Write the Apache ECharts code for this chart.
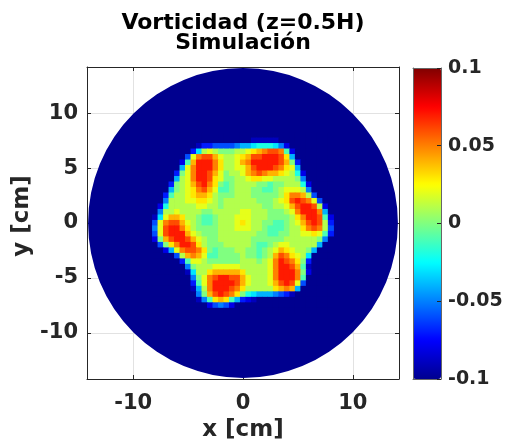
<!DOCTYPE html>
<html><head><meta charset="utf-8">
<script src="https://cdn.jsdelivr.net/npm/echarts@6/dist/echarts.min.js"></script>
<style>html,body{margin:0;padding:0;background:#fff}#c{width:507px;height:441px}</style>
</head><body><div id="c"></div>
<script>
// ---------------- data ----------------
const titleLines = ['Vorticidad (z=0.5H)', 'Simulación'];
const xAxisName = 'x [cm]';
const yAxisName = 'y [cm]';
const axisRange = [-14.2, 14.2];
const xTicks = [-10, 0, 10];
const yTicks = [-10, -5, 0, 5, 10];
const colorbarRange = [-0.1, 0.1];
const colorbarInterval = 0.05;
const domainRadius = 14.1;      // cm, circular tank
const domainValue = -0.1;       // vorticity outside the pattern
// sample grid (cm)
const gridX = [-8,-7.5,-7,-6.5,-6,-5.5,-5,-4.5,-4,-3.5,-3,-2.5,-2,-1.5,-1,-0.5,0,0.5,1,1.5,2,2.5,3,3.5,4,4.5,5,5.5,6,6.5,7,7.5,8];
const gridY = [8,7.5,7,6.5,6,5.5,5,4.5,4,3.5,3,2.5,2,1.5,1,0.5,0,-0.5,-1,-1.5,-2,-2.5,-3,-3.5,-4,-4.5,-5,-5.5,-6,-6.5,-7,-7.5,-8];
// level code -> vorticity value
const levelChars  = '0123456789ABCDEFGHIJK';
const levelValues = [-0.10,-0.09,-0.08,-0.07,-0.06,-0.05,-0.04,-0.03,-0.02,-0.01,0,0.01,0.02,0.03,0.04,0.05,0.06,0.07,0.08,0.09,0.10];
// one string per gridY row, one character per gridX column
const vorticityRows = [
 '000000000000000000000000000000000',
 '000000000000000000111110000000000',
 '000000001334444566788875200000000',
 '000000037BCBAAABBCDEFGGF920000000',
 '0000004CFGGECBBCDEGGHHHGD60000000',
 '0000029EHHHFDBBCEFHHHHHGEA3000000',
 '000006CFHHHFDBBCCEGHHHGFDC6000000',
 '00003ACFHHGECABBCEFGFEEDCB8200000',
 '00006BCFHHGDCAABBCDDCCBBBBA500000',
 '0003ABCEGHFDA9ABBBBAA9AABBB820000',
 '0006ABCDFGEC99ABBBAA99ABCCCB50000',
 '0039BBCDEEDBAAABBBAAAAABDFFEB4000',
 '005BBBCCDDCBABBBBBBAAABCDGHGFC400',
 '028BBBBBCCBBABBBBBBBAABBCEGHHGB20',
 '05BBCBBBBAABBBBBCCBBBAAABCFHHHF60',
 '17CEEDBBA99ABBBCCCBBBAAAABDFHHG92',
 '4CFGGECBA99ABBBCDCBBAA99ABCEGHGB3',
 '5CGHHFDBAAAABBBCCCBBA999ABBDFGFB4',
 '4CGHHHECBAAABBBBBBBAA99AABBCCDC93',
 '2AEGHHGECBAABBBBBBAAAAAABBBBBBA50',
 '04ADFHHGDBAAABBBBBA99ABCCBBBBB600',
 '0026CFGGFDA9AAABBAA9ABCEDCBBA6000',
 '00004BEFEC99AAAABAA9ABEGFDCB70000',
 '0000039CCBAAAAAABBBABCFHGFDA30000',
 '0000005ABBBCCCCCBBBBBCFHHGE910000',
 '00000017BBDEEEEEDBBBBCFHHHFA20000',
 '00000005ACFGHHGGECBBBCFHHHF900000',
 '000000039CFHHHHGECBBBCEGHGC400000',
 '000000016BFHHHGFDBBBBBDEFE6000000',
 '000000005AEGHGFDA8766654310000000',
 '00000000159DED9632100000000000000',
 '000000000024542000000000000000000',
 '000000000000000000000000000000000'
];
// ------------------------------------------------------------------------

const fieldData = [];
vorticityRows.forEach((row, i) => {
  for (let j = 0; j < gridX.length; j++) {
    const ch = row.charAt(j) || '0';
    fieldData.push([gridX[j], gridY[i], levelValues[levelChars.indexOf(ch)]]);
  }
});
const cellSize = gridX[1] - gridX[0];

const jet = ['#00008f','#0000ff','#0080ff','#00ffff','#80ff80','#ffff00','#ff8000','#ff0000','#800000'];
const ink = '#262626';
const font = 'DejaVu Sans';
const tickText = {fontFamily: font, fontWeight: 'bold', fontSize: 21, color: ink};
const cbarText = {fontFamily: font, fontWeight: 'bold', fontSize: 19, color: ink};
const nameText = {fontFamily: font, fontWeight: 'bold', fontSize: 23, color: ink};

const chart = echarts.init(document.getElementById('c'), null, {renderer: 'canvas'});
chart.setOption({
  animation: false,
  title: {
    text: titleLines.join('\n'), left: 238, top: 8, textAlign: 'center',
    textStyle: {fontFamily: font, fontWeight: 'bold', fontSize: 22, lineHeight: 20, color: '#000'}
  },
  grid: [
    {left: 87, top: 67, width: 312, height: 312, outerBoundsMode: 'none', containLabel: false},
    {left: 413, top: 68, width: 28, height: 311, outerBoundsMode: 'none', containLabel: false}
  ],
  xAxis: [
    {type: 'value', gridIndex: 0, min: axisRange[0], max: axisRange[1], position: 'bottom',
     name: xAxisName, nameLocation: 'middle', nameGap: 40, nameTextStyle: nameText,
     axisLine: {show: true, onZero: false, lineStyle: {color: ink, width: 1}},
     axisTick: {show: true, inside: true, length: 4, customValues: xTicks, lineStyle: {color: ink}},
     axisLabel: {customValues: xTicks, margin: 14, ...tickText},
     splitLine: {show: true, lineStyle: {color: '#e2e2e2', width: 1}}},
    {type: 'value', gridIndex: 0, min: axisRange[0], max: axisRange[1], position: 'top',
     axisLine: {show: true, onZero: false, lineStyle: {color: ink, width: 1}},
     axisTick: {show: true, inside: true, length: 4, customValues: xTicks, lineStyle: {color: ink}},
     axisLabel: {show: false}, splitLine: {show: false}},
    {type: 'value', gridIndex: 1, min: 0, max: 1, position: 'bottom', z: 10,
     axisLine: {show: true, onZero: false, lineStyle: {color: '#666', width: 1}},
     axisTick: {show: false}, axisLabel: {show: false}, splitLine: {show: false}},
    {type: 'value', gridIndex: 1, min: 0, max: 1, position: 'top', z: 10,
     axisLine: {show: true, onZero: false, lineStyle: {color: '#666', width: 1}},
     axisTick: {show: false}, axisLabel: {show: false}, splitLine: {show: false}}
  ],
  yAxis: [
    {type: 'value', gridIndex: 0, min: axisRange[0], max: axisRange[1], position: 'left',
     name: yAxisName, nameLocation: 'middle', nameGap: 53, nameRotate: 90, nameMoveOverlap: false,
     nameTextStyle: {...nameText, padding: [0, 0, 0, 14]},
     axisLine: {show: true, onZero: false, lineStyle: {color: ink, width: 1}},
     axisTick: {show: true, inside: true, length: 4, customValues: yTicks, lineStyle: {color: ink}},
     axisLabel: {customValues: yTicks, margin: 9, ...tickText},
     splitLine: {show: true, lineStyle: {color: '#e2e2e2', width: 1}}},
    {type: 'value', gridIndex: 0, min: axisRange[0], max: axisRange[1], position: 'right',
     axisLine: {show: true, onZero: false, lineStyle: {color: ink, width: 1}},
     axisTick: {show: true, inside: true, length: 4, customValues: yTicks, lineStyle: {color: ink}},
     axisLabel: {show: false}, splitLine: {show: false}},
    {type: 'value', gridIndex: 1, min: colorbarRange[0], max: colorbarRange[1], interval: colorbarInterval,
     position: 'right', z: 10,
     axisLine: {show: true, onZero: false, lineStyle: {color: '#666', width: 1}},
     axisTick: {show: true, inside: true, length: 4, lineStyle: {color: ink}},
     axisLabel: {margin: 7, padding: [4, 0, 0, 0], ...cbarText}, splitLine: {show: false}},
    {type: 'value', gridIndex: 1, min: colorbarRange[0], max: colorbarRange[1], position: 'left', z: 10,
     axisLine: {show: true, onZero: false, lineStyle: {color: '#666', width: 1}},
     axisTick: {show: false}, axisLabel: {show: false}, splitLine: {show: false}}
  ],
  visualMap: {
    type: 'continuous', min: colorbarRange[0], max: colorbarRange[1], dimension: 2,
    seriesIndex: [0, 1], calculable: false, hoverLink: false, orient: 'vertical',
    left: 413, top: 68, itemWidth: 28, itemHeight: 311, padding: 0, text: null,
    inRange: {color: jet}
  },
  series: [
    {type: 'custom', xAxisIndex: 0, yAxisIndex: 0, silent: true,
     data: [[0, 0, domainValue]],
     renderItem: (params, api) => {
       const c = api.coord([api.value(0), api.value(1)]);
       const s = api.size([domainRadius, domainRadius]);
       return {type: 'circle', shape: {cx: c[0], cy: c[1], r: s[0]}, style: {fill: api.visual('color')}};
     }},
    {type: 'custom', xAxisIndex: 0, yAxisIndex: 0, silent: true,
     data: fieldData,
     renderItem: (params, api) => {
       const c = api.coord([api.value(0), api.value(1)]);
       const s = api.size([cellSize, cellSize]);
       return {type: 'rect',
               shape: {x: c[0] - s[0] / 2 - 0.3, y: c[1] - s[1] / 2 - 0.3, width: s[0] + 0.6, height: s[1] + 0.6},
               style: {fill: api.visual('color')}};
     }}
  ]
});
</script>
</body></html>
